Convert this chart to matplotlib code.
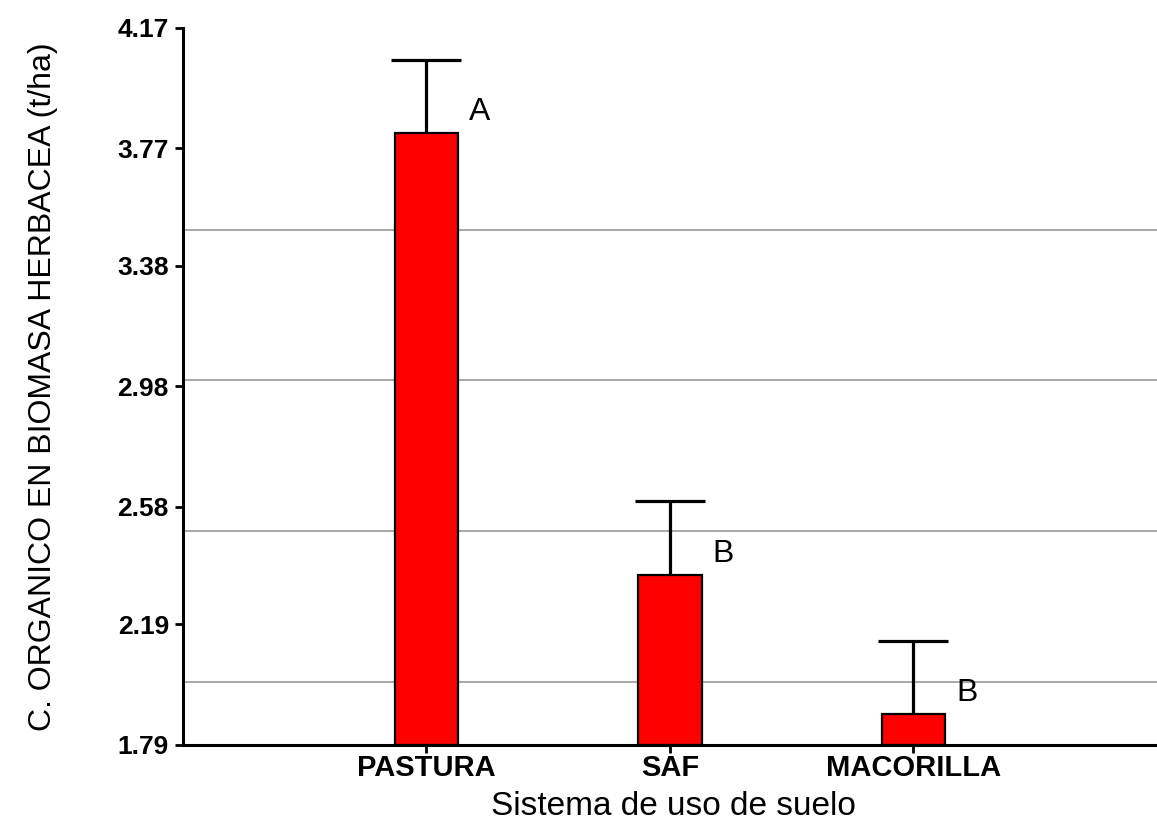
import matplotlib
matplotlib.use('Agg')
import matplotlib.pyplot as plt

# data
sistemas = ["PASTURA", "SAF", "MACORILLA"]
medias = [3.82, 2.355, 1.892]
errores = [0.244, 0.245, 0.244]
letras = ["A", "B", "B"]
yticks = [1.79, 2.19, 2.58, 2.98, 3.38, 3.77, 4.17]
grid_y = [2.0, 2.5, 3.0, 3.5]

plt.rcParams['font.family'] = ['Liberation Sans', 'DejaVu Sans']

fig = plt.figure(figsize=(11.57, 8.23), dpi=100)
ax = fig.add_axes([0.158, 0.0948, 0.842, 0.8712])

x = list(range(len(sistemas)))
ymin, ymax = yticks[0], yticks[-1]
tops = [m + e for m, e in zip(medias, errores)]

for g in grid_y:
    ax.axhline(g, color="#a0a0a0", lw=1.3, zorder=0)

ax.bar(x, [m - ymin for m in medias], bottom=ymin, width=0.26,
       color="#ff0000", edgecolor="black", linewidth=1.6, zorder=2)
# one-sided error bars (upper only)
ax.vlines(x, medias, tops, color="black", lw=2.3, zorder=3)
ax.plot(x, tops, ls="none", marker="_", ms=50, mew=2.3, color="black", zorder=3)

for xi, m, l in zip(x, medias, letras):
    ax.text(xi + 0.22, m + 0.07, l, ha="center", va="center", fontsize=23)

ax.set_xlim(-1.0, 3.0)
ax.set_ylim(ymin, ymax)
ax.set_yticks(yticks)
ax.set_yticklabels([f"{v:.2f}" for v in yticks], fontsize=19, fontweight="bold")
ax.set_xticks(x)
ax.set_xticklabels(sistemas, fontsize=21, fontweight="bold")
ax.tick_params(axis="y", length=6, width=2, pad=4)
ax.tick_params(axis="x", length=6, width=2, pad=0.5)

for s in ["top", "right"]:
    ax.spines[s].set_visible(False)
for s in ["left", "bottom"]:
    ax.spines[s].set_linewidth(2.2)

ax.set_ylabel("C. ORGANICO EN BIOMASA HERBACEA (t/ha)", fontsize=23)
ax.yaxis.set_label_coords(-0.128, 0.5)
ax.set_xlabel("Sistema de uso de suelo", fontsize=24, va="bottom")
ax.xaxis.set_label_coords(0.582, 0.001, transform=fig.transFigure)

plt.savefig("out.png")
plt.close()
